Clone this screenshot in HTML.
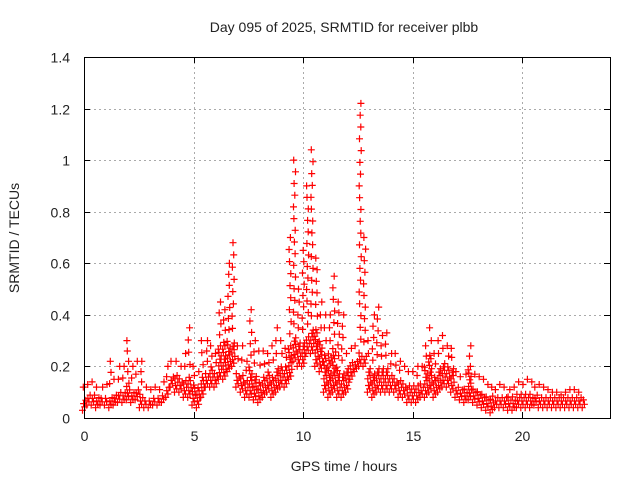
<!DOCTYPE html>
<html><head><meta charset="utf-8"><style>
body{margin:0;background:#fff}
svg text{font-family:"Liberation Sans",sans-serif;font-size:14px;fill:#222}
</style></head><body>
<svg id="chart" width="640" height="480" xmlns="http://www.w3.org/2000/svg">
<text x="344" y="32" text-anchor="middle">Day 095 of 2025, SRMTID for receiver plbb</text>
<text x="344" y="471" text-anchor="middle">GPS time / hours</text>
<text transform="translate(19,238) rotate(-90)" text-anchor="middle">SRMTID / TECUs</text>
<g id="grid"></g>
<g id="marks"></g>
<rect x="84.5" y="57.5" width="526" height="361" fill="none" stroke="#000" stroke-width="1"/>
<g id="ticks"></g>
</svg>
<script>
const xTicks=[0,5,10,15,20];
const yTicks=[0,0.2,0.4,0.6,0.8,1,1.2,1.4];
const yTickLabels=["0","0.2","0.4","0.6","0.8","1","1.2","1.4"];
const binStart=0, binStep=0.2;
const hiVals=[0.12,0.13,0.14,0.12,0.12,0.13,0.22,0.15,0.2,0.2,0.3,0.2,0.22,0.22,0.12,0.11,0.12,0.11,0.14,0.2,0.22,0.22,0.2,0.25,0.35,0.2,0.18,0.3,0.3,0.28,0.25,0.45,0.42,0.6,0.68,0.28,0.28,0.22,0.42,0.3,0.26,0.26,0.25,0.28,0.35,0.3,0.27,0.7,1.0,0.5,0.65,0.9,1.04,0.62,0.45,0.4,0.4,0.55,0.45,0.4,0.25,0.27,0.28,1.22,0.7,0.3,0.4,0.43,0.32,0.33,0.25,0.25,0.22,0.2,0.18,0.18,0.2,0.2,0.28,0.35,0.25,0.3,0.32,0.28,0.27,0.18,0.16,0.17,0.28,0.17,0.16,0.15,0.13,0.12,0.11,0.13,0.12,0.11,0.12,0.14,0.13,0.15,0.14,0.12,0.13,0.12,0.11,0.1,0.1,0.09,0.1,0.11,0.11,0.1,0.07];
const midVals=[0.08,0.09,0.09,0.08,0.08,0.08,0.09,0.09,0.1,0.11,0.14,0.11,0.12,0.1,0.07,0.07,0.08,0.08,0.09,0.12,0.17,0.17,0.16,0.15,0.16,0.13,0.12,0.16,0.18,0.2,0.18,0.28,0.3,0.3,0.3,0.18,0.17,0.15,0.2,0.17,0.15,0.16,0.18,0.17,0.2,0.2,0.2,0.28,0.32,0.3,0.3,0.32,0.35,0.35,0.3,0.25,0.25,0.28,0.2,0.18,0.2,0.22,0.23,0.26,0.25,0.2,0.18,0.2,0.2,0.2,0.17,0.16,0.15,0.14,0.13,0.13,0.13,0.14,0.2,0.25,0.17,0.2,0.22,0.2,0.2,0.12,0.11,0.12,0.2,0.12,0.11,0.1,0.09,0.09,0.08,0.09,0.09,0.09,0.09,0.1,0.1,0.1,0.1,0.09,0.09,0.09,0.09,0.09,0.09,0.08,0.08,0.09,0.09,0.08,0.06];
const loVals=[0.03,0.05,0.05,0.04,0.05,0.05,0.04,0.05,0.06,0.06,0.07,0.06,0.07,0.04,0.04,0.04,0.05,0.05,0.06,0.08,0.12,0.1,0.1,0.08,0.08,0.05,0.04,0.08,0.12,0.12,0.12,0.15,0.15,0.18,0.2,0.12,0.1,0.08,0.08,0.07,0.06,0.08,0.1,0.08,0.1,0.12,0.12,0.15,0.22,0.2,0.2,0.25,0.25,0.2,0.18,0.1,0.08,0.1,0.08,0.08,0.1,0.15,0.18,0.2,0.2,0.1,0.08,0.1,0.1,0.1,0.1,0.1,0.08,0.08,0.06,0.06,0.06,0.08,0.08,0.1,0.08,0.1,0.12,0.12,0.1,0.08,0.07,0.06,0.07,0.06,0.05,0.04,0.03,0.02,0.04,0.04,0.04,0.03,0.03,0.04,0.04,0.04,0.04,0.05,0.04,0.04,0.04,0.04,0.04,0.04,0.04,0.04,0.04,0.04,0.04];
const NS="http://www.w3.org/2000/svg";
const X0=84,X1=610,Y0=418,Y1=57,XMAX=24,YMAX=1.4;
function xs(v){return X0+(X1-X0)*v/XMAX;}
function ys(v){return Y0-(Y0-Y1)*v/YMAX;}
const grid=document.getElementById('grid'),ticks=document.getElementById('ticks'),marks=document.getElementById('marks');
function line(p,x1,y1,x2,y2,st,dash){const l=document.createElementNS(NS,'line');l.setAttribute('x1',x1);l.setAttribute('y1',y1);l.setAttribute('x2',x2);l.setAttribute('y2',y2);l.setAttribute('stroke',st);if(dash)l.setAttribute('stroke-dasharray',dash);p.appendChild(l);return l;}
xTicks.forEach(t=>{const x=Math.round(xs(t))+0.5;
 if(t>0){const g=line(grid,x,Y1,x,Y0,'#aaa','2,3');}
 const a=line(ticks,x,Y0,x,Y0-6,'#000');
 const b=line(ticks,x,Y1,x,Y1+6,'#000');
 const tx=document.createElementNS(NS,'text');tx.setAttribute('x',x);tx.setAttribute('y',Y0+23);tx.setAttribute('text-anchor','middle');tx.textContent=String(t);
 
 
 ticks.appendChild(tx);});
yTicks.forEach((t,i)=>{const y=Math.round(ys(t))+0.5;
 if(t>0&&t<1.4){const g=line(grid,X0,y,X1,y,'#aaa','2,3');}
 const a=line(ticks,X0,y,X0+6,y,'#000');
 const b=line(ticks,X1,y,X1-6,y,'#000');
 const tx=document.createElementNS(NS,'text');tx.setAttribute('x',X0-14);tx.setAttribute('y',y+5);tx.setAttribute('text-anchor','end');tx.textContent=yTickLabels[i];
 
 
 ticks.appendChild(tx);});
let d='';
function plus(t,v){const x=xs(t),y=ys(v);d+=`M${(x-3.5).toFixed(1)} ${y.toFixed(1)}h7M${x.toFixed(1)} ${(y-3.5).toFixed(1)}v7`;}
const n=Math.min(hiVals.length,midVals.length,loVals.length);
const offs=[-0.07,0.03,-0.02,0.08,-0.05,0.05,0,0.06,-0.04];
for(let i=0;i<n;i++){
 const t=binStart+i*binStep,lo=loVals[i],mi=midVals[i],hi=hiVals[i];
 let k=0;
 for(let v=lo;v<=mi+1e-9;v+=0.013){plus(t+offs[k%offs.length],v);k++;}
 const m=Math.max(1,Math.round((hi-mi)/0.045));
 for(let j=1;j<=m;j++){plus(t+offs[k%offs.length]*0.6,mi+(hi-mi)*j/m);k++;}
}
const p=document.createElementNS(NS,'path');p.setAttribute('d',d);p.setAttribute('stroke','#f00');p.setAttribute('stroke-width','1.2');p.setAttribute('fill','none');


marks.appendChild(p);
</script>
</body></html>
